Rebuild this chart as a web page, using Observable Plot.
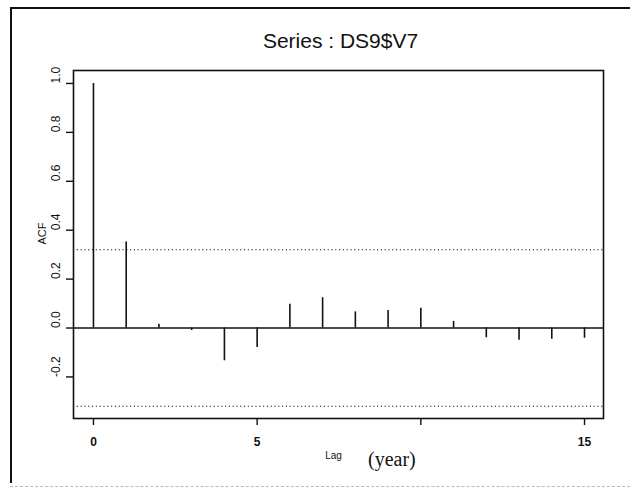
<!DOCTYPE html>
<html>
<head>
<meta charset="utf-8">
<script src="https://cdn.jsdelivr.net/npm/d3@7"></script>
<script src="https://cdn.jsdelivr.net/npm/@observablehq/plot@0.6"></script>
<style>
  html, body { margin: 0; padding: 0; background: #fff; }
  #wrap { position: relative; width: 630px; height: 491px; overflow: hidden; background: #fff; }
  #border { position: absolute; left: 10px; top: 7px; width: 640px; height: 474px;
            border-left: 2px solid #111; border-top: 2px solid #111; }
  #bottomline { position: absolute; left: 10px; top: 486px; width: 620px; border-top: 1px dashed #bbb; }
  #chart { position: absolute; left: 0; top: 0; }
  #year { position: absolute; left: 368px; top: 448px; font-family: "Liberation Serif", "DejaVu Serif", serif;
          font-size: 20px; color: #111; }
</style>
</head>
<body>
<div id="wrap">
  <div id="border"></div>
  <div id="bottomline"></div>
  <div id="chart"></div>
  <div id="year">(year)</div>
</div>
<script>
// Data
const lags = [0, 1, 2, 3, 4, 5, 6, 7, 8, 9, 10, 11, 12, 13, 14, 15];
const acf  = [1.0, 0.352, 0.015, -0.01, -0.134, -0.080, 0.097, 0.124, 0.066, 0.072, 0.081, 0.027, -0.040, -0.050, -0.046, -0.042];
const confBand = [0.32, -0.32];
const yTicks = [-0.2, 0.0, 0.2, 0.4, 0.6, 0.8, 1.0];
const xTicks = [0, 5, 10, 15];
const xTickLabels = ["0", "5", "", "15"];
const titleText = "Series : DS9$V7";
const xLabel = "Lag";
const yLabel = "ACF";

const data = lags.map((l, i) => ({lag: l, acf: acf[i]}));
const fmtY = d => (d < 0 ? "-" : "") + Math.abs(d).toFixed(1);

const chart = Plot.plot({
  width: 630,
  height: 491,
  marginLeft: 73,
  marginRight: 27,
  marginTop: 70,
  marginBottom: 73,
  style: {fontFamily: "'Liberation Sans', Arial, sans-serif", background: "transparent", color: "#111", overflow: "visible"},
  x: {domain: [-0.61, 15.58]},
  y: {domain: [-0.37, 1.053]},
  marks: [
    Plot.ruleY(confBand, {stroke: "#111", strokeWidth: 1.2, strokeDasharray: "1.2,2.6"}),
    Plot.ruleY([0], {stroke: "#111", strokeWidth: 1.5}),
    Plot.ruleX(data, {x: "lag", y1: 0, y2: "acf", stroke: "#111", strokeWidth: 1.6}),
    Plot.frame({stroke: "#111", strokeWidth: 1.6}),
    Plot.axisY(yTicks, {tickSize: 7, tickFormat: () => "", label: null, strokeWidth: 1.4}),
    Plot.text(yTicks, {y: d => d, text: fmtY, frameAnchor: "left", dx: -17, rotate: -90, fontSize: 12, fill: "#111"}),
    Plot.axisX(xTicks, {tickSize: 7, tickPadding: 12, tickFormat: (d, i) => xTickLabels[xTicks.indexOf(d)], label: null, fontSize: 12, fontWeight: "bold", strokeWidth: 1.4}),
    Plot.text([yLabel], {frameAnchor: "left", dx: -31, rotate: -90, fontSize: 11, fill: "#111"}),
    Plot.text([xLabel], {frameAnchor: "bottom", dx: -5, dy: 40, fontSize: 10, fill: "#111"}),
    Plot.text([titleText], {frameAnchor: "top", dx: 2, dy: -37, fontSize: 21, fill: "#111"})
  ]
});
document.getElementById("chart").appendChild(chart);
</script>
</body>
</html>
